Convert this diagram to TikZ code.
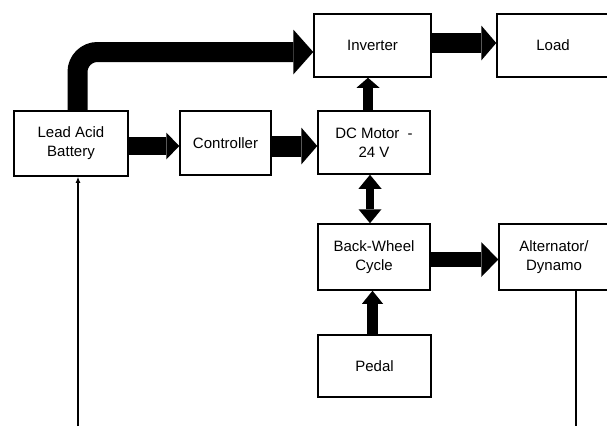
\documentclass[tikz,border=0pt]{standalone}
\usepackage{fontspec}
\setmainfont{Liberation Sans}
\usetikzlibrary{arrows.meta}

\tikzset{
  block/.style={draw, line width=1.5pt, rectangle, align=center, inner sep=0pt,
    font=\fontsize{15}{19}\selectfont},
  fat/.style n args={3}{line width=#1, -{Triangle[width=#2,length=#3,line width=0pt]}},
  fatboth/.style n args={3}{line width=#1,
    {Triangle[width=#2,length=#3,line width=0pt]}-{Triangle[width=#2,length=#3,line width=0pt]}},
  wire/.style={line width=1.3pt}
}

\begin{document}
\begin{tikzpicture}[x=1pt,y=-1pt]
\useasboundingbox (0,0) rectangle (607,426);
\clip (0,0) rectangle (607,426);

% blocks
\node[block, minimum width=114pt, minimum height=65pt] (bat) at (71,143.5) {Lead Acid\\Battery};
\node[block, minimum width=91pt, minimum height=64pt] (ctrl) at (225.5,143) {Controller};
\node[block, minimum width=112pt, minimum height=63pt] (motor) at (374,142.5) {DC Motor\ \ -\\24 V};
\node[block, minimum width=117pt, minimum height=63pt] (inv) at (372.5,45.5) {Inverter};
\node[block, minimum width=112pt, minimum height=63pt] (load) at (553,45.5) {Load};
\node[block, minimum width=112pt, minimum height=66pt] (wheel) at (374,257) {Back-Wheel\\Cycle};
\node[block, minimum width=110pt, minimum height=66pt] (alt) at (554,257) {Alternator/\\Dynamo};
\node[block, minimum width=113pt, minimum height=62pt] (pedal) at (374.5,366) {Pedal};

% power flow
\draw[fat={20pt}{45pt}{20pt}, rounded corners=20pt] (77.5,0 |- bat.north) |- (inv.west |- 0,52);
\draw[fat={18pt}{27pt}{13pt}] (bat.east |- 0,146) -- (ctrl.west |- 0,146);
\draw[fat={21pt}{37pt}{16pt}] (ctrl.east |- 0,146) -- (motor.west |- 0,146);
\draw[fat={20pt}{35pt}{15pt}] (inv.east |- 0,43) -- (load.west |- 0,43);
\draw[fat={10pt}{23pt}{10pt}] (368,0 |- motor.north) -- (368,0 |- inv.south);
\draw[fatboth={8pt}{23pt}{14pt}] (370,0 |- motor.south) -- (370,0 |- wheel.north);
\draw[fat={15pt}{35pt}{17pt}] (wheel.east |- 0,259.5) -- (alt.west |- 0,259.5);
\draw[fat={11pt}{21pt}{13pt}] (372.5,0 |- pedal.north) -- (372.5,0 |- wheel.south);

% charging wires
\coordinate (bin) at (78,426);
\coordinate (aout) at (576,426);
\draw[wire, -{Latex[length=6pt,width=5pt]}] (bin) -- (bin |- bat.south);
\draw[wire] (aout |- alt.south) -- (aout);
\end{tikzpicture}
\end{document}
